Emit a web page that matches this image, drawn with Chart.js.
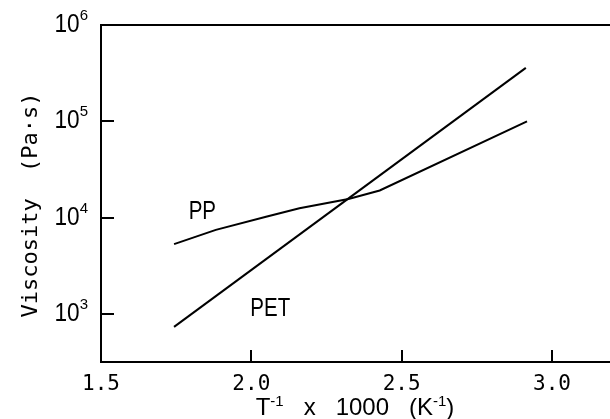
<!DOCTYPE html>
<html>
<head>
<meta charset="utf-8">
<script src="https://cdn.jsdelivr.net/npm/chart.js@4/dist/chart.umd.min.js"></script>
<style>
  html, body { margin: 0; padding: 0; background: #fff; }
  #wrap { width: 610px; height: 419px; }
</style>
</head>
<body>
<div id="wrap"><canvas id="viscChart" width="610" height="419"></canvas></div>
<script>
// reciprocal temperature (1000/T, K^-1) against melt viscosity (Pa·s)
const ppInvT = [1.743, 1.882, 2.049, 2.16, 2.323, 2.427, 2.917];
const ppVisc = [5300, 7450, 10200, 12500, 15600, 19100, 100000];
const petInvT = [1.743, 2.913];
const petVisc = [733, 359000];

const xTicks = [1.5, 2.0, 2.5, 3.0];
const xTickLabels = ['1.5', '2.0', '2.5', '3.0'];
const yTickExps = [3, 4, 5, 6];

const seriesNames = ['PP', 'PET'];
// baseline anchor for each series name, in axis units
const nameAnchors = [{ x: 1.837, y: 9700 }, { x: 2.063, y: 953 }];

const SANS = '"Liberation Sans", Arial, sans-serif';
const MONO = '"DejaVu Sans Mono", monospace';

function toPoints(xs, ys) {
  return xs.map((x, i) => ({ x: x, y: ys[i] }));
}

// text made of runs, some raised and smaller (exponents)
function drawRich(ctx, parts, x, baseline, align) {
  let w = 0;
  parts.forEach(p => {
    ctx.font = p.font;
    w += ctx.measureText(p.text).width * (p.sx || 1);
  });
  let cx = align === 'right' ? x - w : align === 'center' ? x - w / 2 : x;
  parts.forEach(p => {
    const sx = p.sx || 1;
    ctx.font = p.font;
    ctx.save();
    ctx.translate(cx, baseline - (p.rise || 0));
    ctx.scale(sx, 1);
    ctx.textAlign = 'left';
    ctx.textBaseline = 'alphabetic';
    ctx.fillText(p.text, 0, 0);
    ctx.restore();
    cx += ctx.measureText(p.text).width * sx;
  });
}

const axisDecor = {
  id: 'axisDecor',
  afterDraw(chart) {
    const ctx = chart.ctx;
    const xs = chart.scales.x;
    const ys = chart.scales.y;
    const area = chart.chartArea;
    ctx.save();
    ctx.strokeStyle = '#000';
    ctx.fillStyle = '#000';
    ctx.lineWidth = 2;

    // top frame line
    ctx.beginPath();
    ctx.moveTo(area.left, area.top);
    ctx.lineTo(area.right, area.top);
    ctx.stroke();

    // inward tick marks
    ctx.beginPath();
    xTicks.forEach(v => {
      if (v === xs.min) return;
      const px = Math.round(xs.getPixelForValue(v));
      ctx.moveTo(px, area.bottom);
      ctx.lineTo(px, area.bottom - 12);
    });
    yTickExps.forEach(e => {
      const py = Math.round(ys.getPixelForValue(Math.pow(10, e)));
      if (py <= area.top + 1) return;
      ctx.moveTo(area.left, py);
      ctx.lineTo(area.left + 13, py);
    });
    ctx.stroke();

    // x tick labels
    ctx.font = '21px ' + MONO;
    ctx.textAlign = 'center';
    ctx.textBaseline = 'alphabetic';
    xTicks.forEach((v, i) => {
      ctx.fillText(xTickLabels[i], xs.getPixelForValue(v), area.bottom + 28);
    });

    // y tick labels as powers of ten
    yTickExps.forEach(e => {
      const py = ys.getPixelForValue(Math.pow(10, e));
      drawRich(ctx, [
        { text: '10', font: '26px ' + SANS, sx: 0.87 },
        { text: String(e), font: '15px ' + SANS, rise: 12 }
      ], 88, py + 7, 'right');
    });

    // axis titles
    drawRich(ctx, [
      { text: 'T', font: '24px ' + SANS },
      { text: '-1', font: '15px ' + SANS, rise: 9 },
      { text: '   x   1000   (K', font: '24px ' + SANS },
      { text: '-1', font: '15px ' + SANS, rise: 9 },
      { text: ')', font: '24px ' + SANS }
    ], 355, 415, 'center');

    ctx.save();
    ctx.translate(37, 205);
    ctx.rotate(-Math.PI / 2);
    ctx.font = '22px ' + MONO;
    ctx.textAlign = 'center';
    ctx.textBaseline = 'alphabetic';
    ctx.fillText('Viscosity  (Pa\u00b7s)', 0, 0);
    ctx.restore();

    // series names beside the lines
    seriesNames.forEach((name, i) => {
      const a = nameAnchors[i];
      drawRich(ctx, [{ text: name, font: '25px ' + SANS, sx: 0.82 }],
        xs.getPixelForValue(a.x), ys.getPixelForValue(a.y), 'center');
    });
    ctx.restore();
  }
};

const ctx = document.getElementById('viscChart').getContext('2d');
new Chart(ctx, {
  type: 'scatter',
  data: {
    datasets: [{
      label: seriesNames[0],
      data: toPoints(ppInvT, ppVisc),
      showLine: true,
      borderColor: '#000',
      borderWidth: 2,
      pointRadius: 0,
      tension: 0
    }, {
      label: seriesNames[1],
      data: toPoints(petInvT, petVisc),
      showLine: true,
      borderColor: '#000',
      borderWidth: 2,
      pointRadius: 0,
      tension: 0
    }]
  },
  options: {
    responsive: false,
    animation: false,
    layout: { padding: { top: 25, left: 0, right: 0, bottom: 0 } },
    plugins: {
      legend: { display: false },
      tooltip: { enabled: false }
    },
    scales: {
      x: {
        type: 'linear',
        min: 1.5,
        max: 3.193,
        grid: { display: false },
        border: { display: true, color: '#000', width: 2 },
        ticks: { display: false },
        afterFit(scale) { scale.height = 57; }
      },
      y: {
        type: 'logarithmic',
        min: Math.pow(10, 2.5),
        max: 1e6,
        grid: { display: false },
        border: { display: true, color: '#000', width: 2 },
        ticks: { display: false },
        afterFit(scale) { scale.width = 101; }
      }
    }
  },
  plugins: [axisDecor]
});
</script>
</body>
</html>
